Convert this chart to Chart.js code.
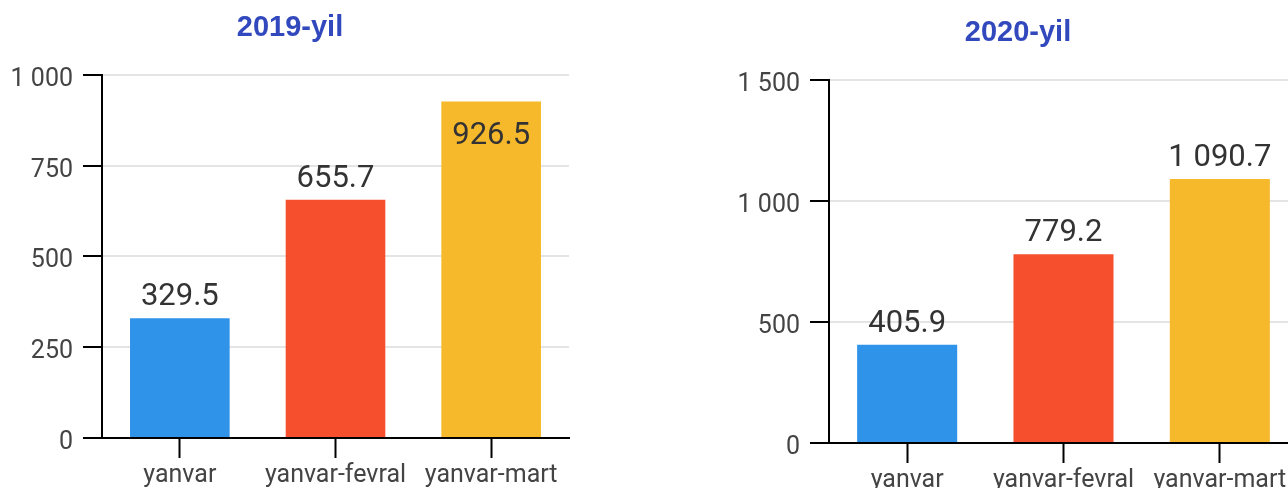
<!DOCTYPE html>
<html>
<head>
<meta charset="utf-8">
<script src="https://cdn.jsdelivr.net/npm/chart.js@4"></script>
<style>
  body { margin: 0; width: 1288px; height: 488px; overflow: hidden; background: #fff; position: relative; }
  .box { position: absolute; }
  #box2019 { left: 0; top: 0; }
  #box2020 { left: 727px; top: 5px; }
</style>
</head>
<body>
<div class="box" id="box2019"><canvas id="chart2019" width="580" height="488"></canvas></div>
<div class="box" id="box2020"><canvas id="chart2020" width="582" height="488"></canvas></div>
<script>
const categories = ['yanvar', 'yanvar-fevral', 'yanvar-mart'];
const values2019 = [329.5, 655.7, 926.5];
const values2020 = [405.9, 779.2, 1090.7];
const ticks2019 = [0, 250, 500, 750, 1000];
const ticks2020 = [0, 500, 1000, 1500];

const barColors = ['#2F93E9', '#F54F2D', '#F6B92B'];

// 1 000 / 1 090.7 のようにスペース区切り
function fmt(v, decimals) {
    const parts = v.toFixed(decimals).split('.');
    parts[0] = parts[0].replace(/\B(?=(\d{3})+(?!\d))/g, ' ');
    return parts.join('.');
}

const valueLabels = {
    id: 'valueLabels',
    afterDatasetsDraw(chart) {
        const ctx = chart.ctx;
        const meta = chart.getDatasetMeta(0);
        const data = chart.data.datasets[0].data;
        ctx.save();
        ctx.font = '31px Roboto';
        ctx.fillStyle = '#333';
        ctx.textAlign = 'center';
        ctx.textBaseline = 'alphabetic';
        meta.data.forEach((bar, i) => {
            let y = bar.y - 13;
            if (y - 23 < chart.chartArea.top) {
                y = bar.y + 43;   // 上に入らないときはバーの中
            }
            ctx.fillText(fmt(data[i], 1), bar.x, y);
        });
        ctx.restore();
    }
};

// y軸の目盛りラベルは少し下げて描く
const yLabels = {
    id: 'yLabels',
    afterDraw(chart) {
        const ctx = chart.ctx;
        const scale = chart.scales.y;
        ctx.save();
        ctx.font = '25px Roboto';
        ctx.fillStyle = '#444';
        ctx.textAlign = 'right';
        ctx.textBaseline = 'alphabetic';
        scale.ticks.forEach((t, i) => {
            ctx.fillText(fmt(t.value, 0), scale.right - 29, scale.getPixelForTick(i) + 11);
        });
        ctx.restore();
    }
};

function makeChart(id, title, values, ticks) {
    const ctx = document.getElementById(id).getContext('2d');
    return new Chart(ctx, {
        type: 'bar',
        data: {
            labels: categories,
            datasets: [{
                data: values,
                backgroundColor: barColors,
                borderWidth: 0,
                categoryPercentage: 0.64,
                barPercentage: 1
            }]
        },
        options: {
            responsive: false,
            animation: false,
            layout: { padding: { left: 11, right: 11, top: 0, bottom: 0 } },
            plugins: {
                legend: { display: false },
                tooltip: { enabled: false },
                title: {
                    display: true,
                    text: title,
                    color: '#3249BE',
                    font: { family: 'Liberation Sans', size: 29, weight: 'bold', lineHeight: 1.2 },
                    padding: { top: 11, bottom: 29 }
                }
            },
            scales: {
                x: {
                    grid: {
                        offset: false,
                        drawOnChartArea: false,
                        tickLength: 20,
                        tickWidth: 2,
                        tickColor: '#000'
                    },
                    border: { display: true, color: '#000', width: 2 },
                    ticks: {
                        color: '#444',
                        font: { family: 'Roboto', size: 25 },
                        padding: 3,
                        maxRotation: 0,
                        autoSkip: false
                    },
                    afterFit: (scale) => { scale.height = 50; }
                },
                y: {
                    min: ticks[0],
                    max: ticks[ticks.length - 1],
                    grid: {
                        color: '#E4E4E4',
                        lineWidth: 2,
                        tickLength: 19,
                        tickWidth: 2,
                        tickColor: '#000'
                    },
                    border: { display: true, color: '#000', width: 2 },
                    ticks: {
                        display: false,
                        stepSize: ticks[1] - ticks[0]
                    },
                    afterFit: (scale) => { scale.width = 91; }
                }
            }
        },
        plugins: [valueLabels, yLabels]
    });
}

document.addEventListener('DOMContentLoaded', () => {
    makeChart('chart2019', '2019-yil', values2019, ticks2019);
    makeChart('chart2020', '2020-yil', values2020, ticks2020);
});
</script>
</body>
</html>
